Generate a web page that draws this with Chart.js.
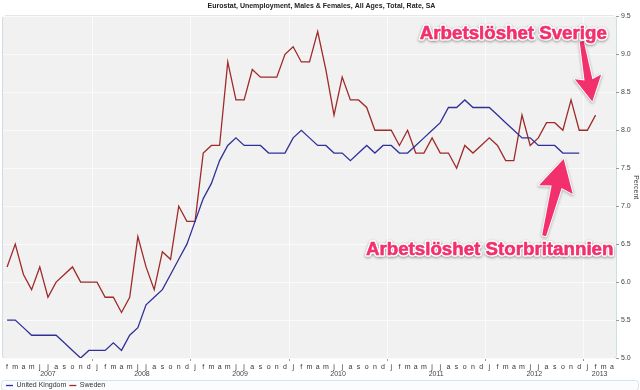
<!DOCTYPE html>
<html>
<head>
<meta charset="utf-8">
<script src="https://cdn.jsdelivr.net/npm/chart.js@4"></script>
<style>
  html, body { margin: 0; padding: 0; background: #fff; }
</style>
</head>
<body>
<canvas id="ueChart" width="640" height="390"></canvas>
<script>
// x axis: monthly, feb 2007 .. apr 2013
const monthLetters = ['j', 'f', 'm', 'a', 'm', 'j', 'j', 'a', 's', 'o', 'n', 'd'];
const years = ['2007', '2008', '2009', '2010', '2011', '2012', '2013'];
const firstMonth = 1; // feb in first year
const lastMonth = 3;  // apr in last year

// unemployment rate, percent (feb 2007 -> dec 2012)
const ukRate = [
  5.5, 5.5, 5.4, 5.3, 5.3, 5.3, 5.3, 5.2, 5.1, 5.0, 5.1,
  5.1, 5.1, 5.2, 5.1, 5.3, 5.4, 5.7, 5.8, 5.9, 6.1, 6.3, 6.5,
  6.8, 7.1, 7.3, 7.6, 7.8, 7.9, 7.8, 7.8, 7.8, 7.7, 7.7, 7.7,
  7.9, 8.0, 7.9, 7.8, 7.8, 7.7, 7.7, 7.6, 7.7, 7.8, 7.7, 7.8,
  7.8, 7.7, 7.7, 7.8, 7.9, 8.0, 8.1, 8.3, 8.3, 8.4, 8.3, 8.3,
  8.3, 8.2, 8.1, 8.0, 7.9, 7.9, 7.8, 7.8, 7.8, 7.7, 7.7, 7.7
];
// feb 2007 -> feb 2013
const swedenRate = [
  6.2, 6.5, 6.1, 5.9, 6.2, 5.8, 6.0, 6.1, 6.2, 6.0, 6.0,
  6.0, 5.8, 5.8, 5.6, 5.8, 6.6, 6.2, 5.9, 6.4, 6.3, 7.0, 6.8,
  6.8, 7.7, 7.8, 7.8, 8.9, 8.4, 8.4, 8.8, 8.7, 8.7, 8.7, 9.0,
  9.1, 8.9, 8.9, 9.3, 8.8, 8.2, 8.7, 8.4, 8.4, 8.3, 8.0, 8.0,
  8.0, 7.8, 8.0, 7.7, 7.7, 7.9, 7.7, 7.7, 7.5, 7.8, 7.7, 7.8,
  7.9, 7.8, 7.6, 7.6, 8.2, 7.8, 7.9, 8.1, 8.1, 8.0, 8.4, 8.0,
  8.0, 8.2
];

const yMin = 5.0;
const yMax = 9.5;
const yStep = 0.5;

const titleText = 'Eurostat, Unemployment, Males & Females, All Ages, Total, Rate, SA';
const pink = '#f2306d';

// callouts, positioned in data units (x = month index, y = percent)
const callouts = [
  { text: 'Arbetslöshet Sverige', from: 50.5, to: 73.4, base: 9.2,
    tail: [70.3, 9.17], tip: [71.6, 8.38] },
  { text: 'Arbetslöshet Storbritannien', from: 43.9, to: 74.2, base: 6.36,
    tail: [65.7, 6.61], tip: [68.1, 7.62] }
];

// build category labels
let labels = [];
let labelMonth = [];
let labelYear = [];
years.forEach(function(yr, yi){
  for(let m=0; m<12; ++m){
    if(yi === 0 && m < firstMonth) continue;
    if(yi === years.length - 1 && m > lastMonth) continue;
    labels.push(monthLetters[m]);
    labelMonth.push(m);
    labelYear.push(yr);
  }
});

Chart.defaults.font.family = '"Liberation Sans", Arial, sans-serif';

function boxPath(ctx, x, y, w, h, r){
  ctx.beginPath();
  if(ctx.roundRect) ctx.roundRect(x, y, w, h, r);
  else ctx.rect(x, y, w, h);
}

// white page, gray plot area and light frames
const frames = {
  id: 'frames',
  beforeDraw(chart){
    const ctx = chart.ctx;
    const a = chart.chartArea;
    ctx.save();
    ctx.fillStyle = '#ffffff';
    ctx.fillRect(0, 0, chart.width, chart.height);
    boxPath(ctx, a.left - 0.5, a.top - 0.5, a.right - a.left + 1, a.bottom - a.top + 1, 3);
    ctx.fillStyle = '#f1f1f1';
    ctx.fill();
    ctx.strokeStyle = '#cfdce4';
    ctx.lineWidth = 1;
    ctx.stroke();
    const lg = chart.legend;
    boxPath(ctx, 1.5, lg.top + 1.5, chart.width - 3, chart.height - lg.top - 1, 3);
    ctx.fillStyle = '#fbfcfd';
    ctx.fill();
    ctx.strokeStyle = '#d6e2ea';
    ctx.stroke();
    ctx.restore();
  }
};

// year names under the month letters
const yearLabels = {
  id: 'yearLabels',
  afterDraw(chart){
    const ctx = chart.ctx;
    const xs = chart.scales.x;
    ctx.save();
    ctx.font = '7px "Liberation Sans", Arial, sans-serif';
    ctx.fillStyle = '#444';
    ctx.textAlign = 'center';
    ctx.textBaseline = 'middle';
    years.forEach(function(yr){
      const first = labelYear.indexOf(yr);
      const last = labelYear.lastIndexOf(yr);
      const x = (xs.getPixelForValue(first) + xs.getPixelForValue(last)) / 2;
      ctx.fillText(yr, x, xs.bottom - 5);
    });
    ctx.restore();
  }
};

function drawArrow(ctx, x0, y0, x1, y1){
  const len = Math.hypot(x1 - x0, y1 - y0);
  const headLen = len * 0.36;
  const headHalf = len * 0.22;
  const neckHalf = len * 0.065;
  ctx.save();
  ctx.translate(x0, y0);
  ctx.rotate(Math.atan2(y1 - y0, x1 - x0));
  ctx.beginPath();
  ctx.moveTo(0, -2);
  ctx.lineTo(len - headLen, -neckHalf);
  ctx.lineTo(len - headLen - 3, -headHalf);
  ctx.lineTo(len, 0);
  ctx.lineTo(len - headLen - 3, headHalf);
  ctx.lineTo(len - headLen, neckHalf);
  ctx.lineTo(0, 2);
  ctx.closePath();
  ctx.lineJoin = 'round';
  ctx.shadowColor = 'rgba(0,0,0,0.35)';
  ctx.shadowBlur = 3;
  ctx.shadowOffsetY = 1;
  ctx.strokeStyle = '#ffffff';
  ctx.lineWidth = 2;
  ctx.stroke();
  ctx.shadowColor = 'transparent';
  ctx.fillStyle = pink;
  ctx.fill();
  ctx.restore();
}

const calloutPlugin = {
  id: 'callouts',
  afterDraw(chart){
    const ctx = chart.ctx;
    const xs = chart.scales.x;
    const ys = chart.scales.y;
    callouts.forEach(function(c){
      drawArrow(ctx, xs.getPixelForValue(c.tail[0]), ys.getPixelForValue(c.tail[1]),
                xs.getPixelForValue(c.tip[0]), ys.getPixelForValue(c.tip[1]));

      const left = xs.getPixelForValue(c.from);
      const right = xs.getPixelForValue(c.to);
      const base = ys.getPixelForValue(c.base);
      ctx.save();
      ctx.font = 'bold 20px "Liberation Sans", Arial, sans-serif';
      const size = 20 * (right - left) / ctx.measureText(c.text).width;
      ctx.font = 'bold ' + size.toFixed(2) + 'px "Liberation Sans", Arial, sans-serif';
      ctx.textAlign = 'left';
      ctx.textBaseline = 'alphabetic';
      ctx.lineJoin = 'round';
      ctx.shadowColor = 'rgba(0,0,0,0.4)';
      ctx.shadowBlur = 3;
      ctx.shadowOffsetY = 1;
      ctx.strokeStyle = '#ffffff';
      ctx.lineWidth = 3.5;
      ctx.strokeText(c.text, left, base);
      ctx.shadowColor = 'transparent';
      ctx.fillStyle = pink;
      ctx.fillText(c.text, left, base);
      ctx.lineWidth = 0.6;
      ctx.strokeStyle = pink;
      ctx.strokeText(c.text, left, base);
      ctx.restore();
    });
  }
};

const ctx = document.getElementById('ueChart').getContext('2d');

const ueChart = new Chart(ctx, {
  type: 'line',
  data: {
    labels: labels,
    datasets: [{
      label: 'United Kingdom',
      data: ukRate,
      borderColor: '#30309a',
      backgroundColor: '#30309a',
      borderWidth: 1.3,
      pointRadius: 0,
      tension: 0
    }, {
      label: 'Sweden',
      data: swedenRate,
      borderColor: '#9e2a2a',
      backgroundColor: '#9e2a2a',
      borderWidth: 1.3,
      pointRadius: 0,
      tension: 0
    }]
  },
  options: {
    responsive: false,
    animation: false,
    devicePixelRatio: 1,
    layout: { padding: { left: 3, right: 0, top: 0, bottom: 0 } },
    plugins: {
      title: {
        display: true,
        text: titleText,
        color: '#222',
        font: { size: 7, weight: 'bold' },
        padding: { top: 2, bottom: 6 }
      },
      legend: {
        position: 'bottom',
        align: 'start',
        maxHeight: 11,
        labels: {
          usePointStyle: true,
          pointStyle: 'line',
          pointStyleWidth: 7,
          boxHeight: 7,
          padding: 3,
          color: '#333',
          font: { size: 7 }
        }
      },
      tooltip: { enabled: false }
    },
    scales: {
      x: {
        offset: true,
        grid: {
          offset: true,
          color: (c) => labelMonth[c.index] === 0 ? '#fbfbfb' : 'transparent',
          tickColor: (c) => labelMonth[c.index] === 0 ? '#999' : 'transparent',
          tickLength: 3
        },
        border: { display: false },
        ticks: {
          autoSkip: false,
          maxRotation: 0,
          padding: 2,
          color: '#333',
          font: { size: 7 }
        },
        afterFit: (scale) => { scale.height = 21; }
      },
      y: {
        position: 'right',
        min: yMin,
        max: yMax,
        grid: {
          color: '#fbfbfb',
          tickColor: '#999',
          tickLength: 3
        },
        border: { display: false },
        ticks: {
          stepSize: yStep,
          padding: 2,
          color: '#444',
          font: { size: 7 },
          callback: (v) => Number(v).toFixed(1)
        },
        title: {
          display: true,
          text: 'Percent',
          color: '#444',
          font: { size: 7 },
          padding: 0
        },
        afterFit: (scale) => { scale.width = 24; }
      }
    }
  },
  plugins: [frames, yearLabels, calloutPlugin]
});
</script>
</body>
</html>
